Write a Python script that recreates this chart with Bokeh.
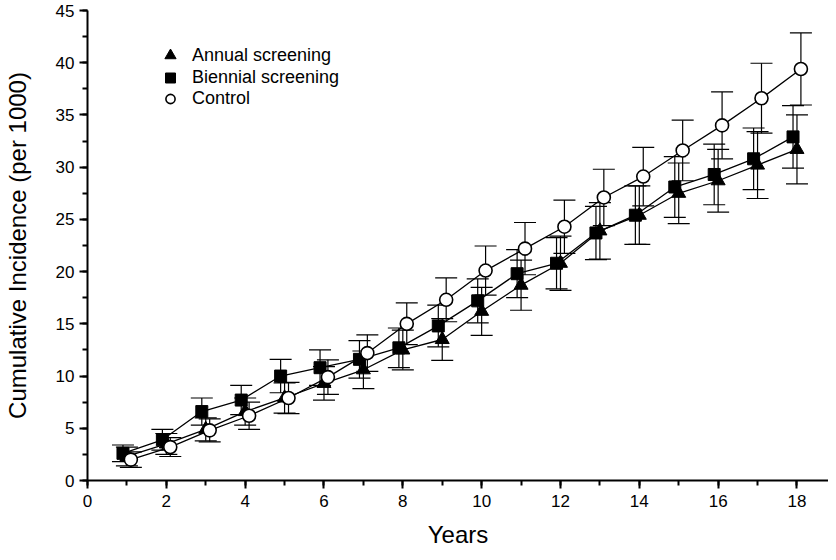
from bokeh.plotting import figure
from bokeh.models import (ColumnDataSource, Whisker, TeeHead, SingleIntervalTicker,
                          Legend, LegendItem, Range1d)
from bokeh.embed import file_html
from bokeh.resources import INLINE

# ---- data ----
years = list(range(1, 19))

annual = [2.3, 3.5, 4.9, 6.6, 7.9, 9.3, 10.6, 12.5, 13.5, 16.2, 18.7, 20.8,
          23.9, 25.4, 27.5, 28.7, 30.2, 31.7]
annual_err = [0.9, 1.0, 1.1, 1.3, 1.45, 1.6, 1.8, 1.9, 2.0, 2.3, 2.4, 2.6,
              2.7, 2.8, 2.9, 3.0, 3.2, 3.3]

biennial = [2.6, 3.9, 6.6, 7.7, 10.0, 10.8, 11.6, 12.7, 14.8, 17.2, 19.8, 20.8,
            23.7, 25.4, 28.1, 29.3, 30.8, 32.9]
biennial_err = [0.8, 1.0, 1.3, 1.4, 1.6, 1.7, 1.8, 1.9, 2.0, 2.1, 2.3, 2.45,
                2.55, 2.8, 2.9, 2.9, 2.95, 3.0]

control = [2.0, 3.2, 4.8, 6.2, 7.9, 9.9, 12.2, 15.0, 17.3, 20.1, 22.2, 24.3,
           27.1, 29.1, 31.6, 34.0, 36.6, 39.4]
control_err = [0.75, 0.9, 1.1, 1.3, 1.5, 1.65, 1.75, 2.0, 2.1, 2.35, 2.5, 2.55,
               2.7, 2.8, 2.9, 3.2, 3.35, 3.45]

series_names = ["Annual screening", "Biennial screening", "Control"]
x_shift = {"Annual screening": 0.0, "Biennial screening": -0.1, "Control": 0.1}

FONT = "Liberation Sans"

p = figure(width=828, height=552, output_backend="svg", toolbar_location=None,
           x_range=Range1d(0, 18.8), y_range=Range1d(0, 45),
           min_border_left=84, min_border_right=0, min_border_top=10,
           min_border_bottom=72)
p.outline_line_color = None
p.xgrid.visible = False
p.ygrid.visible = False
p.background_fill_color = "white"

def make_source(vals, errs, shift):
    xs = [y + shift for y in years]
    return ColumnDataSource(dict(
        x=xs, y=vals,
        upper=[v + e for v, e in zip(vals, errs)],
        lower=[v - e for v, e in zip(vals, errs)],
    ))

data = {
    "Annual screening": (annual, annual_err),
    "Biennial screening": (biennial, biennial_err),
    "Control": (control, control_err),
}

marker_style = {
    "Annual screening": dict(marker="triangle", size=14, fill_color="black", line_color="black", line_width=1),
    "Biennial screening": dict(marker="square", size=12, fill_color="black", line_color="black", line_width=1),
    "Control": dict(marker="circle", size=13, fill_color="white", line_color="black", line_width=1.6),
}

renderers = {}
for name in series_names:
    vals, errs = data[name]
    src = make_source(vals, errs, x_shift[name])
    w = Whisker(source=src, base="x", upper="upper", lower="lower",
                line_color="black", line_width=1.2, level="underlay",
                upper_head=TeeHead(size=22, line_color="black", line_width=1.2),
                lower_head=TeeHead(size=22, line_color="black", line_width=1.2))
    p.add_layout(w)
    p.line("x", "y", source=src, line_color="black", line_width=1.3)

for name in series_names:
    vals, errs = data[name]
    src = make_source(vals, errs, x_shift[name])
    renderers[name] = p.scatter("x", "y", source=src, **marker_style[name])

# ---- axes ----
p.xaxis.ticker = SingleIntervalTicker(interval=2, num_minor_ticks=2)
p.yaxis.ticker = SingleIntervalTicker(interval=5, num_minor_ticks=2)
p.xaxis.axis_label = "Years"
p.yaxis.axis_label = "Cumulative Incidence (per 1000)"
for ax in (p.xaxis, p.yaxis):
    ax.axis_line_width = 2
    ax.axis_line_color = "black"
    ax.major_tick_line_width = 2
    ax.minor_tick_line_width = 2
    ax.major_tick_line_color = "black"
    ax.minor_tick_line_color = "black"
    ax.major_tick_out = 8
    ax.major_tick_in = 0
    ax.minor_tick_out = 5
    ax.minor_tick_in = 0
    ax.major_label_text_font = FONT
    ax.major_label_text_font_size = "17px"
    ax.major_label_text_color = "black"
    ax.axis_label_text_font = FONT
    ax.axis_label_text_font_size = "24px"
    ax.axis_label_text_font_style = "normal"
    ax.axis_label_text_color = "black"
p.xaxis.major_label_standoff = 6
p.xaxis.axis_label_standoff = 11
p.yaxis.major_label_standoff = 5
p.yaxis.axis_label_standoff = 22

# ---- legend: one small legend per entry ----
leg_cfg = [("Annual screening", 28, 410.7),
           ("Biennial screening", 25, 390.5),
           ("Control", 23, 370.5)]
for name, gh, vy in leg_cfg:
    lg = Legend(items=[LegendItem(label=name, renderers=[renderers[name]])],
                location=(69, vy), orientation="vertical",
                glyph_width=28, glyph_height=gh, label_height=gh,
                label_standoff=8, padding=0, spacing=0, margin=0,
                border_line_color=None, background_fill_alpha=0,
                label_text_font=FONT, label_text_font_size="18px",
                label_text_color="black")
    p.add_layout(lg, "center")

open("out.html", "w").write(file_html(p, INLINE))
